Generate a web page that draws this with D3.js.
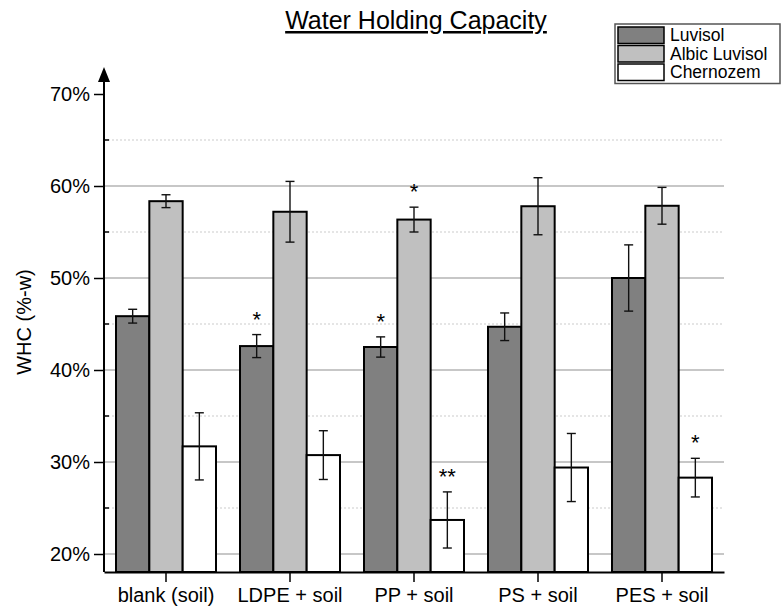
<!DOCTYPE html>
<html>
<head>
<meta charset="utf-8">
<script src="https://cdn.jsdelivr.net/npm/d3@7"></script>
<style>
  body { margin: 0; background: #fff; }
  svg { font-family: "Liberation Sans", Arial, sans-serif; }
</style>
</head>
<body>
<svg id="chart" width="781" height="610"></svg>
<script>
// values (%)
const categories = ["blank (soil)", "LDPE + soil", "PP + soil", "PS + soil", "PES + soil"];
const seriesNames = ["Luvisol", "Albic Luvisol", "Chernozem"];
const luvisol = [45.85, 42.6, 42.5, 44.7, 50.0];
const luvisolErr = [0.75, 1.25, 1.1, 1.5, 3.6];
const albic = [58.35, 57.2, 56.35, 57.8, 57.85];
const albicErr = [0.7, 3.3, 1.35, 3.1, 2.0];
const chernozem = [31.7, 30.75, 23.7, 29.4, 28.3];
const chernozemErr = [3.65, 2.65, 3.05, 3.7, 2.1];
// significance marks above the error bars
const luvisolSig = ["", "*", "*", "", ""];
const albicSig = ["", "", "*", "", ""];
const chernozemSig = ["", "", "**", "", "*"];
const yTicks = [20, 30, 40, 50, 60, 70];
const yMinor = [25, 35, 45, 55, 65];

const colors = ["#808080", "#c0c0c0", "#ffffff"];
const values = [luvisol, albic, chernozem];
const errs = [luvisolErr, albicErr, chernozemErr];
const sigs = [luvisolSig, albicSig, chernozemSig];

// flatten to one row per bar
const bars = [];
categories.forEach((c, i) => {
    seriesNames.forEach((s, j) => {
        bars.push({ cat: c, series: s, value: values[j][i], err: errs[j][i], sig: sigs[j][i], color: colors[j] });
    });
});

const svg = d3.select("#chart");
const left = 104, right = 724, bottom = 572;

const x = d3.scaleBand().domain(categories).range([left, right]).padding(0);
const xs = d3.scaleBand().domain(seriesNames).range([0, 100]);
const y = d3.scaleLinear().domain([20, 70]).range([554, 94]);

// gridlines
svg.append("g").selectAll("line").data(yTicks.filter(d => d < 70)).join("line")
    .attr("x1", left).attr("x2", right)
    .attr("y1", d => y(d)).attr("y2", d => y(d))
    .attr("stroke", "#b4b4b4").attr("stroke-width", 1.5);
svg.append("g").selectAll("line").data(yMinor).join("line")
    .attr("x1", left).attr("x2", right)
    .attr("y1", d => y(d)).attr("y2", d => y(d))
    .attr("stroke", "#cccccc").attr("stroke-width", 1.2)
    .attr("stroke-dasharray", "2,2");

// bars
const barX = d => x(d.cat) + x.bandwidth() / 2 - 50 + xs(d.series);
svg.append("g").selectAll("rect").data(bars).join("rect")
    .attr("x", barX)
    .attr("y", d => y(d.value))
    .attr("width", xs.bandwidth())
    .attr("height", d => bottom - y(d.value))
    .attr("fill", d => d.color)
    .attr("stroke", "#000")
    .attr("stroke-width", 2);

// error bars
const eb = svg.append("g").attr("stroke", "#111").attr("stroke-width", 1.4);
const cx = d => barX(d) + xs.bandwidth() / 2;
eb.selectAll(".v").data(bars).join("line").attr("class", "v")
    .attr("x1", cx).attr("x2", cx)
    .attr("y1", d => y(d.value + d.err)).attr("y2", d => y(d.value - d.err));
eb.selectAll(".t").data(bars).join("line").attr("class", "t")
    .attr("x1", d => cx(d) - 4.5).attr("x2", d => cx(d) + 4.5)
    .attr("y1", d => y(d.value + d.err)).attr("y2", d => y(d.value + d.err));
eb.selectAll(".b").data(bars).join("line").attr("class", "b")
    .attr("x1", d => cx(d) - 4.5).attr("x2", d => cx(d) + 4.5)
    .attr("y1", d => y(d.value - d.err)).attr("y2", d => y(d.value - d.err));

// significance stars
svg.append("g").selectAll("text").data(bars.filter(d => d.sig)).join("text")
    .attr("x", cx)
    .attr("y", d => y(d.value + d.err) - 8)
    .attr("text-anchor", "middle")
    .style("font-size", "22px")
    .text(d => d.sig);

// y axis
const yAxis = svg.append("g").attr("transform", `translate(${left},0)`)
    .call(d3.axisLeft(y).tickValues(yTicks).tickSize(10).tickFormat(d => d + "%"));
yAxis.select(".domain").remove();
yAxis.selectAll("line").attr("stroke", "#000").attr("stroke-width", 1.5);
yAxis.selectAll("text").style("font-size", "20px").attr("x", -14).attr("fill", "#000");
svg.append("g").selectAll("line").data(yMinor).join("line")
    .attr("x1", left).attr("x2", left + 5)
    .attr("y1", d => y(d)).attr("y2", d => y(d))
    .attr("stroke", "#000").attr("stroke-width", 1.5);
svg.append("line").attr("x1", left).attr("x2", left).attr("y1", bottom).attr("y2", 80)
    .attr("stroke", "#000").attr("stroke-width", 2);
svg.append("path").attr("d", `M${left},67 L${left - 6},82 L${left + 6},82 Z`).attr("fill", "#000");

// x axis
const xAxis = svg.append("g").attr("transform", `translate(0,${bottom})`)
    .call(d3.axisBottom(x).tickSize(10).tickSizeOuter(0));
xAxis.select(".domain").attr("stroke", "#000").attr("stroke-width", 2);
xAxis.selectAll("line").attr("stroke", "#000").attr("stroke-width", 1.5);
xAxis.selectAll("text").style("font-size", "20px").attr("y", 16).attr("fill", "#000");

// axis title
svg.append("text")
    .attr("transform", "translate(31,322) rotate(-90)")
    .attr("text-anchor", "middle")
    .style("font-size", "20px")
    .text("WHC (%-w)");

// chart title
svg.append("text")
    .attr("x", 416).attr("y", 29)
    .attr("text-anchor", "middle")
    .style("font-size", "25px")
    .style("text-decoration", "underline")
    .text("Water Holding Capacity");

// legend
const rowH = 18.5;
const lg = svg.append("g").attr("transform", "translate(615,24)");
lg.append("rect").attr("x", 0).attr("y", 0).attr("width", 165).attr("height", 4 + 3 * rowH)
    .attr("fill", "#fff").attr("stroke", "#555").attr("stroke-width", 1.5);
seriesNames.forEach((s, j) => {
    lg.append("rect").attr("x", 3).attr("y", 3 + j * rowH).attr("width", 46).attr("height", rowH - 2)
        .attr("fill", colors[j]).attr("stroke", "#000").attr("stroke-width", 1.5);
    lg.append("text").attr("x", 55).attr("y", 17 + j * rowH)
        .style("font-size", "17.5px").text(s);
});
</script>
</body>
</html>
